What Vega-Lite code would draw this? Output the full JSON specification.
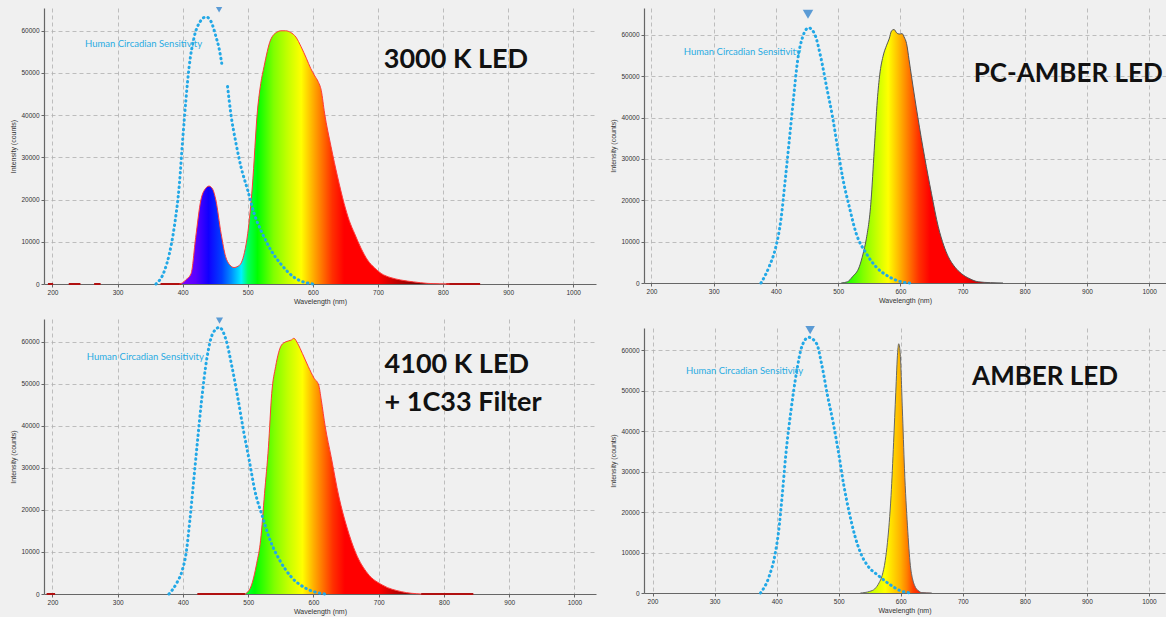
{
 "$schema": "https://vega.github.io/schema/vega-lite/v6.json",
 "background": "#f0f0f0",
 "padding": {"left": 9, "top": 6, "right": 2, "bottom": 2},
 "datasets": {
  "spec": [
   {"p":"TL","w":395,"v":0},{"p":"TL","w":400,"v":300},{"p":"TL","w":405,"v":1000},{"p":"TL","w":413,"v":2500},{"p":"TL","w":420,"v":11000},{"p":"TL","w":428,"v":19900},{"p":"TL","w":435,"v":22600},{"p":"TL","w":440.5,"v":23200},{"p":"TL","w":446,"v":22500},{"p":"TL","w":451,"v":19900},{"p":"TL","w":459,"v":12000},{"p":"TL","w":466,"v":6500},{"p":"TL","w":472,"v":4600},{"p":"TL","w":479,"v":3900},{"p":"TL","w":485,"v":4200},{"p":"TL","w":490,"v":5000},{"p":"TL","w":495,"v":7500},{"p":"TL","w":500,"v":12000},{"p":"TL","w":507,"v":23000},{"p":"TL","w":515,"v":41200},{"p":"TL","w":520,"v":47500},{"p":"TL","w":525,"v":51500},{"p":"TL","w":535,"v":57800},{"p":"TL","w":545,"v":59700},{"p":"TL","w":551,"v":60000},{"p":"TL","w":558,"v":60000},{"p":"TL","w":566,"v":59600},{"p":"TL","w":574,"v":58500},{"p":"TL","w":582,"v":56200},{"p":"TL","w":590,"v":53500},{"p":"TL","w":597,"v":51000},{"p":"TL","w":603,"v":49300},{"p":"TL","w":608,"v":48000},{"p":"TL","w":613,"v":45800},{"p":"TL","w":618,"v":40500},{"p":"TL","w":628,"v":32500},{"p":"TL","w":638,"v":25400},{"p":"TL","w":648,"v":19100},{"p":"TL","w":656,"v":15000},{"p":"TL","w":664,"v":12000},{"p":"TL","w":674,"v":8500},{"p":"TL","w":684,"v":5700},{"p":"TL","w":695,"v":3800},{"p":"TL","w":705,"v":2500},{"p":"TL","w":720,"v":1500},{"p":"TL","w":735,"v":950},{"p":"TL","w":755,"v":500},{"p":"TL","w":776,"v":150},{"p":"TL","w":795,"v":50},{"p":"TL","w":810,"v":0},
   {"p":"TR","w":505,"v":0},{"p":"TR","w":515,"v":300},{"p":"TR","w":523,"v":1500},{"p":"TR","w":534,"v":3900},{"p":"TR","w":540,"v":7000},{"p":"TR","w":545,"v":10400},{"p":"TR","w":553,"v":20000},{"p":"TR","w":558,"v":32100},{"p":"TR","w":563,"v":44200},{"p":"TR","w":567,"v":50500},{"p":"TR","w":572,"v":54700},{"p":"TR","w":578,"v":57500},{"p":"TR","w":582,"v":59000},{"p":"TR","w":586,"v":61000},{"p":"TR","w":590,"v":61300},{"p":"TR","w":594,"v":60500},{"p":"TR","w":598,"v":60200},{"p":"TR","w":603,"v":60300},{"p":"TR","w":606,"v":59500},{"p":"TR","w":610,"v":57900},{"p":"TR","w":614,"v":54000},{"p":"TR","w":618,"v":49900},{"p":"TR","w":628,"v":40200},{"p":"TR","w":639,"v":30500},{"p":"TR","w":650,"v":21700},{"p":"TR","w":661,"v":13600},{"p":"TR","w":670,"v":9000},{"p":"TR","w":677,"v":6400},{"p":"TR","w":688,"v":3800},{"p":"TR","w":698,"v":2300},{"p":"TR","w":712,"v":1000},{"p":"TR","w":725,"v":300},{"p":"TR","w":745,"v":80},{"p":"TR","w":765,"v":0},
   {"p":"BL","w":495,"v":0},{"p":"BL","w":504,"v":1700},{"p":"BL","w":513,"v":7300},{"p":"BL","w":519,"v":12800},{"p":"BL","w":525,"v":23900},{"p":"BL","w":531,"v":35000},{"p":"BL","w":536,"v":47700},{"p":"BL","w":542,"v":54100},{"p":"BL","w":551,"v":59200},{"p":"BL","w":558,"v":60000},{"p":"BL","w":566,"v":60400},{"p":"BL","w":570,"v":60800},{"p":"BL","w":576,"v":59500},{"p":"BL","w":583,"v":57200},{"p":"BL","w":592,"v":54100},{"p":"BL","w":601,"v":51300},{"p":"BL","w":608,"v":49700},{"p":"BL","w":612,"v":46100},{"p":"BL","w":618,"v":39800},{"p":"BL","w":627,"v":32700},{"p":"BL","w":639,"v":23100},{"p":"BL","w":651,"v":16000},{"p":"BL","w":665,"v":9700},{"p":"BL","w":683,"v":4900},{"p":"BL","w":706,"v":2100},{"p":"BL","w":735,"v":550},{"p":"BL","w":765,"v":0},
   {"p":"BR","w":535,"v":0},{"p":"BR","w":550,"v":400},{"p":"BR","w":558,"v":1000},{"p":"BR","w":565,"v":2500},{"p":"BR","w":570,"v":4300},{"p":"BR","w":575,"v":8000},{"p":"BR","w":578.6,"v":12500},{"p":"BR","w":584.4,"v":24100},{"p":"BR","w":588.5,"v":37200},{"p":"BR","w":592,"v":49600},{"p":"BR","w":595,"v":59500},{"p":"BR","w":596.7,"v":61600},{"p":"BR","w":599,"v":59500},{"p":"BR","w":602.6,"v":45500},{"p":"BR","w":606,"v":30700},{"p":"BR","w":610.8,"v":16600},{"p":"BR","w":615.5,"v":6800},{"p":"BR","w":619,"v":3500},{"p":"BR","w":622.5,"v":1800},{"p":"BR","w":628,"v":600},{"p":"BR","w":634,"v":100},{"p":"BR","w":650,"v":0}
  ],
  "circ": [
   {"p":"TL","s":1,"w":359,"v":0},{"p":"TL","s":1,"w":372,"v":3100},{"p":"TL","s":1,"w":379.5,"v":7100},{"p":"TL","s":1,"w":387,"v":13400},{"p":"TL","s":1,"w":395,"v":23700},{"p":"TL","s":1,"w":400,"v":34100},{"p":"TL","s":1,"w":405,"v":43600},{"p":"TL","s":1,"w":410,"v":51500},{"p":"TL","s":1,"w":418,"v":58700},{"p":"TL","s":1,"w":427,"v":62200},{"p":"TL","s":1,"w":436,"v":63300},{"p":"TL","s":1,"w":443.6,"v":62200},{"p":"TL","s":1,"w":451,"v":58700},{"p":"TL","s":1,"w":456.4,"v":55500},{"p":"TL","s":1,"w":460,"v":52300},
   {"p":"TL","s":2,"w":469,"v":46800},{"p":"TL","s":2,"w":474,"v":40400},{"p":"TL","s":2,"w":482,"v":33300},{"p":"TL","s":2,"w":489.7,"v":27700},{"p":"TL","s":2,"w":500,"v":22200},{"p":"TL","s":2,"w":510,"v":16600},{"p":"TL","s":2,"w":523,"v":11800},{"p":"TL","s":2,"w":536,"v":7900},{"p":"TL","s":2,"w":551,"v":4700},{"p":"TL","s":2,"w":572,"v":1500},{"p":"TL","s":2,"w":600,"v":0},
   {"p":"TR","s":1,"w":376,"v":0},{"p":"TR","s":1,"w":389,"v":3900},{"p":"TR","s":1,"w":400,"v":8800},{"p":"TR","s":1,"w":408,"v":15200},{"p":"TR","s":1,"w":415,"v":24900},{"p":"TR","s":1,"w":421,"v":33700},{"p":"TR","s":1,"w":428,"v":44200},{"p":"TR","s":1,"w":435,"v":53900},{"p":"TR","s":1,"w":443,"v":59500},{"p":"TR","s":1,"w":452.5,"v":61700},{"p":"TR","s":1,"w":462,"v":60300},{"p":"TR","s":1,"w":472,"v":54700},{"p":"TR","s":1,"w":481.5,"v":47400},{"p":"TR","s":1,"w":491,"v":40200},{"p":"TR","s":1,"w":499,"v":32900},{"p":"TR","s":1,"w":507,"v":25700},{"p":"TR","s":1,"w":518,"v":18400},{"p":"TR","s":1,"w":529,"v":12000},{"p":"TR","s":1,"w":545,"v":7200},{"p":"TR","s":1,"w":561,"v":3900},{"p":"TR","s":1,"w":582,"v":1500},{"p":"TR","s":1,"w":604,"v":200},{"p":"TR","s":1,"w":615,"v":0},
   {"p":"BL","s":1,"w":378.5,"v":0},{"p":"BL","s":1,"w":390,"v":2500},{"p":"BL","s":1,"w":399,"v":5700},{"p":"BL","s":1,"w":404.8,"v":9700},{"p":"BL","s":1,"w":410.6,"v":17600},{"p":"BL","s":1,"w":416.5,"v":27100},{"p":"BL","s":1,"w":422.4,"v":36600},{"p":"BL","s":1,"w":428,"v":45300},{"p":"BL","s":1,"w":437,"v":56400},{"p":"BL","s":1,"w":445.8,"v":62000},{"p":"BL","s":1,"w":455.7,"v":63400},{"p":"BL","s":1,"w":466,"v":60400},{"p":"BL","s":1,"w":475,"v":54100},{"p":"BL","s":1,"w":483.8,"v":46900},{"p":"BL","s":1,"w":492.6,"v":39000},{"p":"BL","s":1,"w":501.4,"v":31900},{"p":"BL","s":1,"w":510,"v":24700},{"p":"BL","s":1,"w":521.8,"v":18400},{"p":"BL","s":1,"w":533.5,"v":12800},{"p":"BL","s":1,"w":548,"v":8100},{"p":"BL","s":1,"w":565.7,"v":4100},{"p":"BL","s":1,"w":589,"v":1300},{"p":"BL","s":1,"w":618,"v":0},
   {"p":"BR","s":1,"w":374,"v":0},{"p":"BR","s":1,"w":388.4,"v":4300},{"p":"BR","s":1,"w":397,"v":9200},{"p":"BR","s":1,"w":403,"v":15000},{"p":"BR","s":1,"w":409,"v":24100},{"p":"BR","s":1,"w":414.7,"v":34000},{"p":"BR","s":1,"w":423.5,"v":45500},{"p":"BR","s":1,"w":432,"v":54500},{"p":"BR","s":1,"w":441,"v":61100},{"p":"BR","s":1,"w":451.6,"v":63200},{"p":"BR","s":1,"w":464.5,"v":61600},{"p":"BR","s":1,"w":473,"v":56200},{"p":"BR","s":1,"w":482,"v":48800},{"p":"BR","s":1,"w":491,"v":42200},{"p":"BR","s":1,"w":499.6,"v":34800},{"p":"BR","s":1,"w":508.4,"v":26500},{"p":"BR","s":1,"w":517,"v":19900},{"p":"BR","s":1,"w":526,"v":14200},{"p":"BR","s":1,"w":534.7,"v":10100},{"p":"BR","s":1,"w":546.4,"v":6800},{"p":"BR","s":1,"w":564,"v":4300},{"p":"BR","s":1,"w":581.5,"v":2200},{"p":"BR","s":1,"w":599,"v":600},{"p":"BR","s":1,"w":616.6,"v":0}
  ],
  "base": [
   {"p":"TL","s":1,"w":193,"v":0},{"p":"TL","s":1,"w":201,"v":0},
   {"p":"TL","s":2,"w":225,"v":0},{"p":"TL","s":2,"w":243,"v":0},
   {"p":"TL","s":3,"w":264,"v":0},{"p":"TL","s":3,"w":274,"v":0},
   {"p":"TL","s":4,"w":366,"v":0},{"p":"TL","s":4,"w":398,"v":0},
   {"p":"TL","s":5,"w":805,"v":0},{"p":"TL","s":5,"w":857,"v":0},
   {"p":"BL","s":1,"w":191,"v":0},{"p":"BL","s":1,"w":204,"v":0},
   {"p":"BL","s":2,"w":422,"v":0},{"p":"BL","s":2,"w":495,"v":0},
   {"p":"BL","s":3,"w":765,"v":0},{"p":"BL","s":3,"w":845,"v":0}
  ],
  "tri": [
   {"p":"TL","w":456,"v":65000},
   {"p":"TR","w":451.6,"v":65000},
   {"p":"BL","w":456,"v":65000},
   {"p":"BR","w":454,"v":65000}
  ],
  "lab": [
   {"p":"TL","w":250,"v":56900,"t":"Human Circadian Sensitivity"},
   {"p":"TR","w":252,"v":55900,"t":"Human Circadian Sensitivity"},
   {"p":"BL","w":252.6,"v":56400,"t":"Human Circadian Sensitivity"},
   {"p":"BR","w":254,"v":54900,"t":"Human Circadian Sensitivity"}
  ],
  "ttl": [
   {"p":"TL","w":709,"v":51200,"t":"3000 K LED"},
   {"p":"TR","w":718,"v":48600,"t":"PC-AMBER LED"},
   {"p":"BL","w":709,"v":52600,"t":"4100 K LED"},
   {"p":"BL","w":709,"v":43600,"t":"+ 1C33 Filter"},
   {"p":"BR","w":715,"v":51400,"t":"AMBER LED"}
  ]
 },
 "hconcat": [
  {"vconcat": [
   {"width": 552, "height": 276,
    "encoding": {
     "x": {"field":"w","type":"quantitative","title":"Wavelength (nm)","scale":{"domain":[187,1035],"nice":false,"zero":false},"axis":{"values":[200,300,400,500,600,700,800,900,1000],"format":"d"}},
     "y": {"field":"v","type":"quantitative","title":"Intensity (counts)","scale":{"domain":[0,65400],"nice":false},"axis":{"values":[0,10000,20000,30000,40000,50000,60000],"format":"d"}}
    },
    "layer": [
     {"data":{"name":"base"},"transform":[{"filter":"datum.p==='TL'"}],"mark":{"type":"line","color":"#b01010","strokeWidth":2},"encoding":{"detail":{"field":"s"}}},
     {"data":{"name":"spec"},"transform":[{"filter":"datum.p==='TL'"}],"mark":{"type":"area","interpolate":"monotone","fill":{"gradient":"linear","x1":0,"y1":0,"x2":1,"y2":0,"stops":[{"offset":0,"color":"#7a00ff"},{"offset":0.012,"color":"#7a00ff"},{"offset":0.06,"color":"#5a00ff"},{"offset":0.108,"color":"#1000ff"},{"offset":0.157,"color":"#0040ff"},{"offset":0.193,"color":"#0090ff"},{"offset":0.229,"color":"#00f0ff"},{"offset":0.253,"color":"#00ff60"},{"offset":0.289,"color":"#00ff00"},{"offset":0.349,"color":"#80ff00"},{"offset":0.398,"color":"#c0ff00"},{"offset":0.451,"color":"#ffff00"},{"offset":0.494,"color":"#ffb000"},{"offset":0.53,"color":"#ff7000"},{"offset":0.566,"color":"#ff3000"},{"offset":0.61,"color":"#ff0000"},{"offset":0.735,"color":"#ff0000"},{"offset":0.795,"color":"#c80000"},{"offset":0.88,"color":"#800000"},{"offset":1,"color":"#500000"}]}}},
     {"data":{"name":"spec"},"transform":[{"filter":"datum.p==='TL'"}],"mark":{"type":"line","interpolate":"monotone","color":"#ff3a3a","strokeWidth":1}},
     {"data":{"name":"circ"},"transform":[{"filter":"datum.p==='TL'"}],"mark":{"type":"line","interpolate":"monotone","color":"#22a8e6","strokeWidth":3,"strokeDash":[0.5,4.3],"strokeCap":"round"},"encoding":{"detail":{"field":"s"}}},
     {"data":{"name":"tri"},"transform":[{"filter":"datum.p==='TL'"}],"mark":{"type":"point","shape":"triangle-down","filled":true,"color":"#5b9bd5","opacity":1,"size":40}},
     {"data":{"name":"lab"},"transform":[{"filter":"datum.p==='TL'"}],"mark":{"type":"text","align":"left","baseline":"middle","font":"Lato","fontSize":9.5,"color":"#29abe2"},"encoding":{"text":{"field":"t"}}},
     {"data":{"name":"ttl"},"transform":[{"filter":"datum.p==='TL'"}],"mark":{"type":"text","align":"left","baseline":"alphabetic","font":"Lato","fontWeight":"bold","fontSize":27,"color":"#111111"},"encoding":{"text":{"field":"t"}}}
    ]
   },
   {"width": 552, "height": 275,
    "encoding": {
     "x": {"field":"w","type":"quantitative","title":"Wavelength (nm)","scale":{"domain":[187,1033],"nice":false,"zero":false},"axis":{"values":[200,300,400,500,600,700,800,900,1000],"format":"d"}},
     "y": {"field":"v","type":"quantitative","title":"Intensity (counts)","scale":{"domain":[0,65400],"nice":false},"axis":{"values":[0,10000,20000,30000,40000,50000,60000],"format":"d"}}
    },
    "layer": [
     {"data":{"name":"base"},"transform":[{"filter":"datum.p==='BL'"}],"mark":{"type":"line","color":"#b01010","strokeWidth":2},"encoding":{"detail":{"field":"s"}}},
     {"data":{"name":"spec"},"transform":[{"filter":"datum.p==='BL'"}],"mark":{"type":"area","interpolate":"monotone","fill":{"gradient":"linear","x1":0,"y1":0,"x2":1,"y2":0,"stops":[{"offset":0,"color":"#00ff40"},{"offset":0.056,"color":"#00ff00"},{"offset":0.167,"color":"#80ff00"},{"offset":0.241,"color":"#c0ff00"},{"offset":0.326,"color":"#ffff00"},{"offset":0.389,"color":"#ffb000"},{"offset":0.444,"color":"#ff7000"},{"offset":0.5,"color":"#ff3000"},{"offset":0.567,"color":"#ff0000"},{"offset":0.759,"color":"#ff0000"},{"offset":0.852,"color":"#c00000"},{"offset":1,"color":"#700000"}]}}},
     {"data":{"name":"spec"},"transform":[{"filter":"datum.p==='BL'"}],"mark":{"type":"line","interpolate":"monotone","color":"#ff3a3a","strokeWidth":1}},
     {"data":{"name":"circ"},"transform":[{"filter":"datum.p==='BL'"}],"mark":{"type":"line","interpolate":"monotone","color":"#22a8e6","strokeWidth":3,"strokeDash":[0.5,4.3],"strokeCap":"round"},"encoding":{"detail":{"field":"s"}}},
     {"data":{"name":"tri"},"transform":[{"filter":"datum.p==='BL'"}],"mark":{"type":"point","shape":"triangle-down","filled":true,"color":"#5b9bd5","opacity":1,"size":50}},
     {"data":{"name":"lab"},"transform":[{"filter":"datum.p==='BL'"}],"mark":{"type":"text","align":"left","baseline":"middle","font":"Lato","fontSize":9.5,"color":"#29abe2"},"encoding":{"text":{"field":"t"}}},
     {"data":{"name":"ttl"},"transform":[{"filter":"datum.p==='BL'"}],"mark":{"type":"text","align":"left","baseline":"alphabetic","font":"Lato","fontWeight":"bold","fontSize":27,"color":"#111111"},"encoding":{"text":{"field":"t"}}}
    ]
   }
  ], "spacing": 12},
  {"vconcat": [
   {"width": 522, "height": 275,
    "encoding": {
     "x": {"field":"w","type":"quantitative","title":"Wavelength (nm)","scale":{"domain":[188,1027],"nice":false,"zero":false},"axis":{"values":[200,300,400,500,600,700,800,900,1000],"format":"d"}},
     "y": {"field":"v","type":"quantitative","title":"Intensity (counts)","scale":{"domain":[0,66500],"nice":false},"axis":{"values":[0,10000,20000,30000,40000,50000,60000],"format":"d"}}
    },
    "layer": [
     {"data":{"name":"spec"},"transform":[{"filter":"datum.p==='TR'"}],"mark":{"type":"area","interpolate":"monotone","fill":{"gradient":"linear","x1":0,"y1":0,"x2":1,"y2":0,"stops":[{"offset":0,"color":"#00ff20"},{"offset":0.058,"color":"#30ff00"},{"offset":0.135,"color":"#80ff00"},{"offset":0.212,"color":"#c0ff00"},{"offset":0.29,"color":"#ffff00"},{"offset":0.365,"color":"#ffb000"},{"offset":0.423,"color":"#ff7000"},{"offset":0.481,"color":"#ff3000"},{"offset":0.55,"color":"#ff0000"},{"offset":0.75,"color":"#ff0000"},{"offset":0.846,"color":"#c80000"},{"offset":1,"color":"#800000"}]}}},
     {"data":{"name":"spec"},"transform":[{"filter":"datum.p==='TR'"}],"mark":{"type":"line","interpolate":"monotone","color":"#555555","strokeWidth":1}},
     {"data":{"name":"circ"},"transform":[{"filter":"datum.p==='TR'"}],"mark":{"type":"line","interpolate":"monotone","color":"#22a8e6","strokeWidth":3,"strokeDash":[0.5,4.3],"strokeCap":"round"},"encoding":{"detail":{"field":"s"}}},
     {"data":{"name":"tri"},"transform":[{"filter":"datum.p==='TR'"}],"mark":{"type":"point","shape":"triangle-down","filled":true,"color":"#5b9bd5","opacity":1,"size":110}},
     {"data":{"name":"lab"},"transform":[{"filter":"datum.p==='TR'"}],"mark":{"type":"text","align":"left","baseline":"middle","font":"Lato","fontSize":9.5,"color":"#29abe2"},"encoding":{"text":{"field":"t"}}},
     {"data":{"name":"ttl"},"transform":[{"filter":"datum.p==='TR'"}],"mark":{"type":"text","align":"left","baseline":"alphabetic","font":"Lato","fontWeight":"bold","fontSize":26,"color":"#111111"},"encoding":{"text":{"field":"t"}}}
    ]
   },
   {"width": 521, "height": 265,
    "encoding": {
     "x": {"field":"w","type":"quantitative","title":"Wavelength (nm)","scale":{"domain":[186.3,1025.8],"nice":false,"zero":false},"axis":{"values":[200,300,400,500,600,700,800,900,1000],"format":"d"}},
     "y": {"field":"v","type":"quantitative","title":"Intensity (counts)","scale":{"domain":[0,65500],"nice":false},"axis":{"values":[0,10000,20000,30000,40000,50000,60000],"format":"d"}}
    },
    "layer": [
     {"data":{"name":"spec"},"transform":[{"filter":"datum.p==='BR'"}],"mark":{"type":"area","interpolate":"monotone","fill":{"gradient":"linear","x1":0,"y1":0,"x2":1,"y2":0,"stops":[{"offset":0,"color":"#a0ff00"},{"offset":0.217,"color":"#d8ff00"},{"offset":0.348,"color":"#ffff00"},{"offset":0.478,"color":"#ffd000"},{"offset":0.565,"color":"#ffb000"},{"offset":0.652,"color":"#ff8000"},{"offset":0.739,"color":"#ff4000"},{"offset":0.87,"color":"#ff1000"},{"offset":1,"color":"#e00000"}]}}},
     {"data":{"name":"spec"},"transform":[{"filter":"datum.p==='BR'"}],"mark":{"type":"line","interpolate":"monotone","color":"#666666","strokeWidth":1}},
     {"data":{"name":"circ"},"transform":[{"filter":"datum.p==='BR'"}],"mark":{"type":"line","interpolate":"monotone","color":"#22a8e6","strokeWidth":3,"strokeDash":[0.5,4.3],"strokeCap":"round"},"encoding":{"detail":{"field":"s"}}},
     {"data":{"name":"tri"},"transform":[{"filter":"datum.p==='BR'"}],"mark":{"type":"point","shape":"triangle-down","filled":true,"color":"#5b9bd5","opacity":1,"size":90}},
     {"data":{"name":"lab"},"transform":[{"filter":"datum.p==='BR'"}],"mark":{"type":"text","align":"left","baseline":"middle","font":"Lato","fontSize":9.5,"color":"#29abe2"},"encoding":{"text":{"field":"t"}}},
     {"data":{"name":"ttl"},"transform":[{"filter":"datum.p==='BR'"}],"mark":{"type":"text","align":"left","baseline":"alphabetic","font":"Lato","fontWeight":"bold","fontSize":26,"color":"#111111"},"encoding":{"text":{"field":"t"}}}
    ]
   }
  ], "spacing": 21}
 ],
 "spacing": 13,
 "config": {
  "view": {"stroke": null, "fill": "#f0f0f0"},
  "axis": {"labelFont": "Liberation Sans", "labelFontSize": 6.5, "labelColor": "#333333", "titleFont": "Liberation Sans", "titleFontSize": 7, "titleFontWeight": "normal", "titleColor": "#333333", "grid": true, "gridColor": "#b0b0b0", "gridDash": [4, 3], "gridWidth": 0.8, "domainColor": "#666666", "domainWidth": 1.2, "tickColor": "#666666", "tickSize": 3, "labelPadding": 2},
  "axisX": {"titlePadding": 2},
  "axisY": {"titlePadding": 4}
 }
}
